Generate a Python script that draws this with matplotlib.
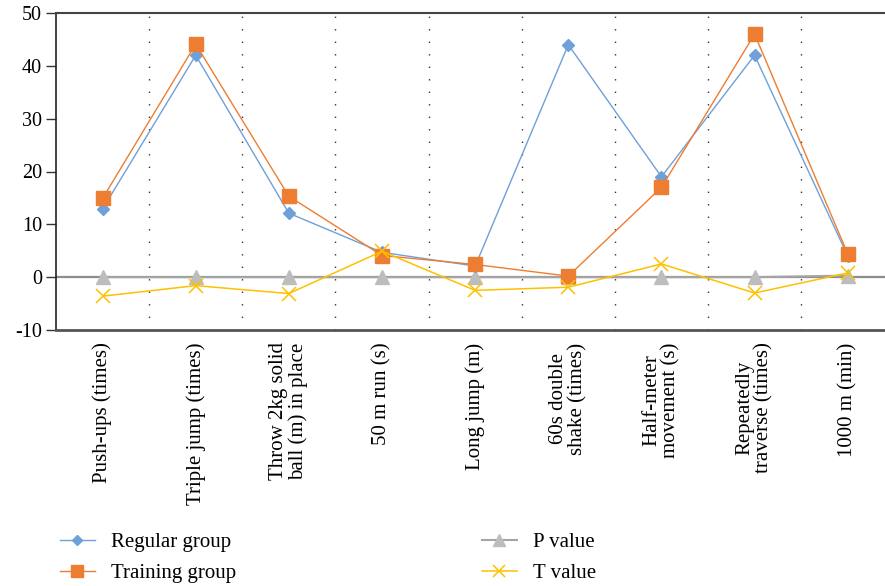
import matplotlib
matplotlib.use("Agg")
import matplotlib.pyplot as plt

plt.rcParams['font.family'] = ['Liberation Serif', 'DejaVu Serif']

categories = ["Push-ups (times)", "Triple jump (times)", "Throw 2kg solid\nball (m) in place",
              "50 m run (s)", "Long jump (m)", "60s double\nshake (times)",
              "Half-meter\nmovement (s)", "Repeatedly\ntraverse (times)", "1000 m (min)"]
regular = [12.9, 42.0, 12.1, 4.7, 2.1, 44.0, 19.0, 42.0, 4.0]
training = [14.9, 44.1, 15.3, 4.1, 2.4, 0.2, 17.0, 46.0, 4.4]
p_value = [0.0, 0.0, 0.0, 0.0, 0.0, 0.0, 0.0, 0.0, 0.3]
t_value = [-3.6, -1.6, -3.1, 4.9, -2.5, -1.9, 2.5, -3.0, 0.8]
yticks = [-10, 0, 10, 20, 30, 40, 50]

fig = plt.figure(figsize=(8.85, 5.86), dpi=100)
ax = fig.add_axes([56/885, (586-330)/586, 1 - 56/885, (330-13)/586])

x = list(range(len(categories)))
ax.axhline(0, color='#8c8c8c', lw=1.6, zorder=1)
ax.plot(x, p_value, color='#A5A5A5', marker='^', markersize=10, lw=1.5, label='P value', zorder=2,
        markerfacecolor='#BDBDBD', markeredgecolor='#BDBDBD')
ax.plot(x, regular, color='#6FA0D8', marker='D', markersize=6.5, lw=1.0, label='Regular group', zorder=3)
ax.plot(x, training, color='#ED7D31', marker='s', markersize=10.5, lw=1.0, label='Training group', zorder=4)
ax.plot(x, t_value, color='#FFC000', marker='x', markersize=10, mew=1.1, lw=1.1, label='T value', zorder=5)

for b in range(1, len(categories)):
    ax.axvline(b - 0.5, color='#333333', lw=1.0, ls=(0, (1, 8)), zorder=0)

ax.set_xlim(-0.5, 8.4)
ax.set_ylim(-10, 50)
ax.set_yticks(yticks)
ax.set_yticklabels([str(v) for v in yticks], fontsize=14.5)
ax.set_xticks(x)
ax.set_xticklabels(categories, rotation=90, fontsize=15, va='top', ha='center', linespacing=1.0)
ax.tick_params(axis='x', length=0, pad=9)
ax.tick_params(axis='y', length=7, width=1, color='#333333', pad=3)

ax.spines['right'].set_visible(False)
ax.spines['top'].set_color('#444444')
ax.spines['top'].set_linewidth(1.5)
ax.spines['bottom'].set_color('#555555')
ax.spines['bottom'].set_linewidth(2)
ax.spines['left'].set_color('#222222')
ax.spines['left'].set_linewidth(1.2)

h = {l.get_label(): l for l in ax.get_lines() if not l.get_label().startswith('_')}
handles = [h['Regular group'], h['Training group'], h['P value'], h['T value']]
labels = ['Regular group', 'Training group', 'P value', 'T value']
leg = fig.legend(handles, labels, ncol=2, loc='upper left', bbox_to_anchor=(41/885, 1 - 514/586),
                 frameon=False, fontsize=15, handlelength=1.7, columnspacing=11.8,
                 labelspacing=0.55, markerscale=0.8, handletextpad=0.75)

fig.savefig('out.png', dpi=100)
